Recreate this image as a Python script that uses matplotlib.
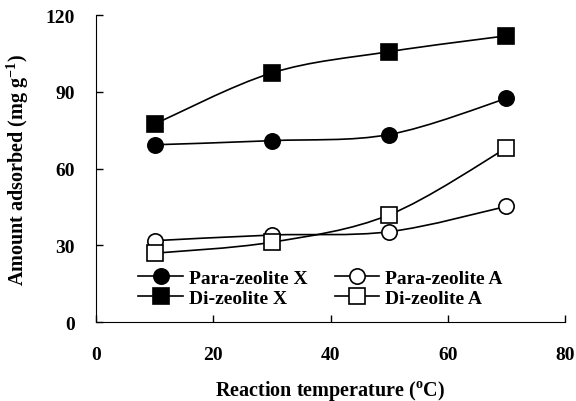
import numpy as np
import matplotlib
matplotlib.use('Agg')
import matplotlib.pyplot as plt
from matplotlib.path import Path
from matplotlib.patches import PathPatch
from matplotlib.lines import Line2D

plt.rcParams['font.family'] = 'Liberation Serif'
plt.rcParams['font.weight'] = 'bold'
plt.rcParams['mathtext.fontset'] = 'custom'
plt.rcParams['mathtext.rm'] = 'Liberation Serif:bold'
plt.rcParams['mathtext.bf'] = 'Liberation Serif:bold'

# Данные
temp = [10, 30, 50, 70]
para_x = [69.3, 70.9, 73.3, 87.4]
para_a = [31.8, 34.0, 35.3, 45.2]
di_x = [77.4, 97.4, 105.7, 111.9]
di_a = [26.9, 31.2, 41.9, 68.0]


def smooth_path(x, y):
    """Сглаженная линия как в Excel (Безье, Catmull-Rom)."""
    pts = np.column_stack([x, y]).astype(float)
    ext = np.vstack([pts[0], pts, pts[-1]])
    verts = [pts[0]]
    codes = [Path.MOVETO]
    for i in range(len(pts) - 1):
        p0, p1, p2, p3 = ext[i], ext[i + 1], ext[i + 2], ext[i + 3]
        c1 = p1 + (p2 - p0) / 6
        c2 = p2 - (p3 - p1) / 6
        verts += [c1, c2, p2]
        codes += [Path.CURVE4] * 3
    return Path(verts, codes)


fig = plt.figure(figsize=(5.76, 4.02), dpi=100)
ax = fig.add_axes([0.1667, 0.1965, 0.8143, 0.7635])

series = [
    (para_x, 'o', 'black', 'Para-zeolite X'),
    (para_a, 'o', 'white', 'Para-zeolite A'),
    (di_x, 's', 'black', 'Di-zeolite X'),
    (di_a, 's', 'white', 'Di-zeolite A'),
]

handles = {}
for y, m, fc, lab in series:
    ax.add_patch(PathPatch(smooth_path(temp, y), facecolor='none',
                           edgecolor='black', lw=1.2, zorder=2))
    ms = 11 if m == 'o' else 11.5
    ax.plot(temp, y, linestyle='none', marker=m, ms=ms, mfc=fc,
            mec='black', mew=1.2, zorder=3)
    handles[lab] = Line2D([], [], color='black', lw=1.2, marker=m, ms=ms,
                          mfc=fc, mec='black', mew=1.2)

order = ['Para-zeolite X', 'Di-zeolite X', 'Para-zeolite A', 'Di-zeolite A']
ax.legend([handles[k] for k in order], order, ncol=2, loc='lower left',
          bbox_to_anchor=(0.09, 0.05), frameon=False, fontsize=14,
          handlelength=2.3, handletextpad=0.3, columnspacing=1.4,
          labelspacing=0.1, borderaxespad=0.0, borderpad=0.0)

ax.set_xlim(0, 80)
ax.set_ylim(0, 120)
ax.set_xticks([0, 20, 40, 60, 80])
ax.set_yticks([0, 30, 60, 90, 120])
ax.tick_params(direction='in', length=5, width=1, labelsize=14)
ax.tick_params(axis='x', pad=17)
ax.tick_params(axis='y', pad=15)
ax.spines['top'].set_visible(False)
ax.spines['right'].set_visible(False)

ax.set_xlabel(r'Reaction temperature ($^{\mathrm{o}}$C)', fontsize=14.5,
              fontweight='bold')
ax.set_ylabel(r'Amount adsorbed (mg g$^{\mathrm{-1}}$)', fontsize=14.5,
              fontweight='bold')
ax.xaxis.set_label_coords(0.5, -0.183)
ax.yaxis.set_label_coords(-0.139, 0.5)

fig.savefig('out.png', dpi=100)
